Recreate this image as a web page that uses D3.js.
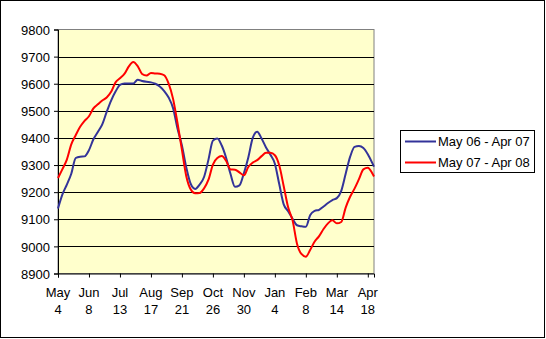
<!DOCTYPE html>
<html>
<head>
<meta charset="utf-8">
<script src="https://cdn.jsdelivr.net/npm/d3@7"></script>
<style>
  html, body { margin: 0; padding: 0; background: #fff; }
  svg { display: block; }
  text { font-family: "Liberation Sans", Arial, sans-serif; font-size: 13px; fill: #000; }
</style>
</head>
<body>
<svg id="chart" width="546" height="339"></svg>
<script>
// Day offsets from May 4 (shared categories)
const days = [0,5,10,15,20,25,30,35,40,45,50,55,60,65,70,75,80,85,90,95,100,105,110,115,120,125,130,135,140,145,150,155,160,165,170,175,180,185,190,195,200,205,210,215,220,225,230,235,240,245,250,255,260,265,270,275,280,285,290,295,300,305,310,315,320,325,330,335,340,345,350,355,357];

const series1Name = "May 06 - Apr 07";
const series1 = [9140,9192,9228,9268,9326,9331,9332,9355,9395,9422,9450,9496,9538,9571,9596,9601,9601,9601,9615,9610,9607,9605,9600,9590,9573,9549,9510,9435,9372,9290,9230,9212,9228,9256,9320,9390,9398,9372,9326,9266,9220,9225,9270,9328,9400,9423,9398,9365,9338,9305,9229,9155,9130,9102,9078,9074,9072,9116,9131,9135,9147,9160,9171,9178,9205,9268,9330,9367,9370,9363,9340,9308,9294];

const series2Name = "May 07 - Apr 08";
const series2 = [9252,9285,9320,9376,9410,9441,9463,9480,9509,9524,9538,9549,9570,9605,9620,9636,9664,9680,9665,9636,9630,9640,9638,9637,9631,9600,9544,9455,9356,9258,9210,9196,9197,9214,9246,9302,9326,9333,9315,9284,9283,9273,9262,9293,9309,9318,9333,9345,9345,9336,9298,9222,9144,9096,9010,8972,8962,8988,9018,9038,9064,9085,9096,9085,9090,9143,9183,9213,9248,9284,9290,9270,9258];

const tickDays = [0,35,70,105,140,175,210,245,280,315,350];
const tickMonths = ["May","Jun","Jul","Aug","Sep","Oct","Nov","Jan","Feb","Mar","Apr"];
const tickDates = ["4","8","13","17","21","26","30","4","8","14","18"];
const yTicks = [8900,9000,9100,9200,9300,9400,9500,9600,9700,9800];

const svg = d3.select("#chart");

// outer border
svg.append("rect").attr("x",0.5).attr("y",0.5).attr("width",544).attr("height",337)
  .attr("fill","#fff").attr("stroke","#000").attr("stroke-width",1);

const L = 58, R = 374, T = 29.5, B = 273.5;
const x = d3.scaleLinear().domain([0,357]).range([L,R]);
const y = d3.scaleLinear().domain([8900,9800]).range([B,T]);

// plot area
svg.append("rect").attr("x",L).attr("y",T).attr("width",R-L).attr("height",B-T)
  .attr("fill","#FFFFCC").attr("stroke","#808080").attr("stroke-width",1);

// gridlines
svg.append("g").selectAll("line").data(yTicks.slice(1,-1)).join("line")
  .attr("x1",L).attr("x2",R)
  .attr("y1",d=>Math.round(y(d))+0.5).attr("y2",d=>Math.round(y(d))+0.5)
  .attr("stroke","#000").attr("stroke-width",1);

// y axis
const yAxis = d3.axisLeft(y).tickValues(yTicks).tickSize(4).tickPadding(4).tickFormat(d3.format("d"));
const gy = svg.append("g").attr("transform",`translate(${L},0)`).call(yAxis);
gy.select(".domain").attr("stroke","#000");
gy.selectAll("text").style("font-size","13px").attr("dy","0.36em");

// x axis
const xAxis = d3.axisBottom(x).tickValues(tickDays).tickSize(4).tickFormat("");
const gx = svg.append("g").attr("transform",`translate(0,${B})`).call(xAxis);
gx.select(".domain").attr("stroke","#000");

const xl = svg.append("g");
tickDays.forEach((d,i)=>{
  const t = xl.append("text").attr("x",x(d)).attr("text-anchor","middle");
  t.append("tspan").attr("x",x(d)).attr("y",297).text(tickMonths[i]);
  t.append("tspan").attr("x",x(d)).attr("y",313.5).text(tickDates[i]);
});

// lines
const line = d3.line().x((d,i)=>x(days[i])).y(d=>y(d)).curve(d3.curveMonotoneX);
svg.append("path").datum(series1).attr("d",line).attr("fill","none")
  .attr("stroke","#333399").attr("stroke-width",2);
svg.append("path").datum(series2).attr("d",line).attr("fill","none")
  .attr("stroke","#FF0000").attr("stroke-width",2);

// legend
const lg = svg.append("g");
lg.append("rect").attr("x",400.5).attr("y",130.5).attr("width",134).attr("height",42)
  .attr("fill","#fff").attr("stroke","#000").attr("stroke-width",1);
[[series1Name,"#333399",141.5],[series2Name,"#FF0000",162.5]].forEach(([name,col,yy])=>{
  lg.append("line").attr("x1",405).attr("x2",436).attr("y1",yy).attr("y2",yy)
    .attr("stroke",col).attr("stroke-width",2);
  lg.append("text").attr("x",438).attr("y",yy+4.7).text(name);
});
</script>
</body>
</html>
